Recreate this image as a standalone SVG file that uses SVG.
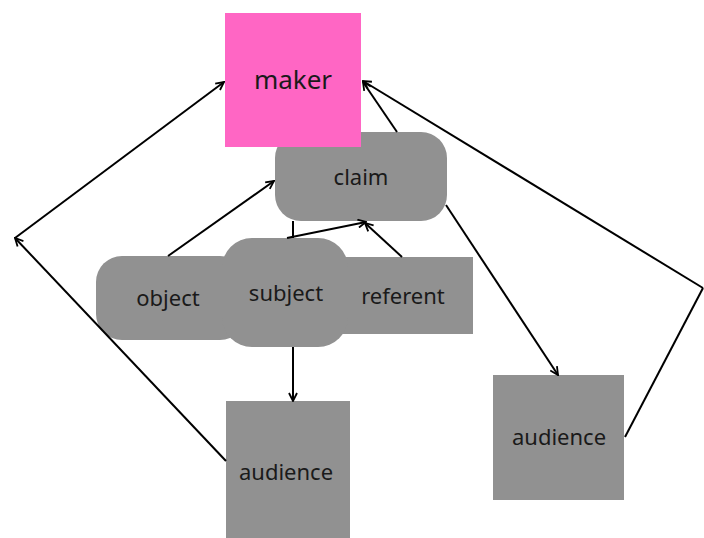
<svg xmlns="http://www.w3.org/2000/svg" width="704" height="538" viewBox="0 0 704 538">
  <style>
    .box { fill: #919191; }
    .lbl { font-family: "Noto Sans", "Liberation Sans", sans-serif; font-size: 22px; fill: #1a1a1a; text-anchor: middle; dominant-baseline: central; }
    .edge { stroke: #000; stroke-width: 2; fill: none; }
  </style>
  <defs>
    <marker id="arrow" viewBox="0 0 10 10" refX="9" refY="5" markerWidth="10" markerHeight="10" markerUnits="userSpaceOnUse" orient="auto">
      <path d="M1,1 L9,5 L1,9" fill="none" stroke="#000" stroke-width="1.8"/>
    </marker>
  </defs>
  <rect width="704" height="538" fill="#fff"/>

  <g id="node-claim">
    <rect class="box" x="275" y="132" width="172" height="89" rx="26"/>
    <text class="lbl" x="361" y="176">claim</text>
  </g>
  <g id="node-maker">
    <rect x="225" y="13" width="136" height="134" fill="#ff66c4"/>
    <text class="lbl" x="293" y="79" style="font-size:26px">maker</text>
  </g>
  <g id="node-object">
    <rect class="box" x="96" y="256" width="150" height="84" rx="26"/>
    <text class="lbl" x="168" y="297">object</text>
  </g>
  <g id="node-referent">
    <rect class="box" x="330" y="257" width="143" height="77"/>
    <text class="lbl" x="403" y="295">referent</text>
  </g>
  <g id="node-subject">
    <rect class="box" x="222" y="238" width="126" height="109" rx="30"/>
    <text class="lbl" x="286" y="292">subject</text>
  </g>
  <g id="node-audience-left">
    <rect class="box" x="226" y="401" width="124" height="137"/>
    <text class="lbl" x="286" y="471">audience</text>
  </g>
  <g id="node-audience-right">
    <rect class="box" x="493" y="375" width="131" height="125"/>
    <text class="lbl" x="559" y="436">audience</text>
  </g>

  <g id="connectors">
    <line class="edge" x1="226" y1="461" x2="15" y2="238" marker-end="url(#arrow)"/>
    <line class="edge" x1="15" y1="238" x2="224" y2="82" marker-end="url(#arrow)"/>
    <line class="edge" x1="625" y1="437" x2="703" y2="288"/>
    <line class="edge" x1="703" y1="288" x2="363" y2="81" marker-end="url(#arrow)"/>
    <line class="edge" x1="397" y1="132" x2="363" y2="82" marker-end="url(#arrow)"/>
    <line class="edge" x1="446" y1="205" x2="558" y2="375" marker-end="url(#arrow)"/>
    <line class="edge" x1="168" y1="256" x2="274" y2="181" marker-end="url(#arrow)"/>
    <line class="edge" x1="293" y1="221" x2="293" y2="238"/>
    <line class="edge" x1="287" y1="238" x2="366" y2="222" marker-end="url(#arrow)"/>
    <line class="edge" x1="402" y1="257" x2="365" y2="223" marker-end="url(#arrow)"/>
    <line class="edge" x1="293" y1="347" x2="293" y2="401" marker-end="url(#arrow)"/>
  </g>
</svg>
